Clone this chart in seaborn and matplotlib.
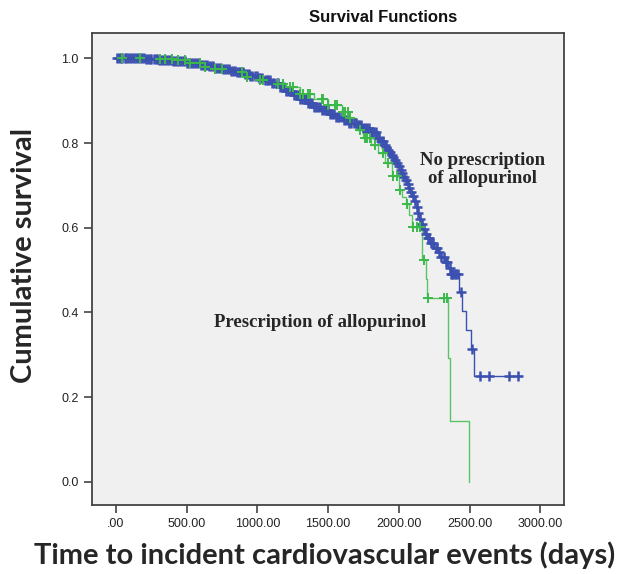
import numpy as np
import pandas as pd
import matplotlib
matplotlib.use("Agg")
import matplotlib.pyplot as plt
import seaborn as sns

# Kaplan-Meier curves (time in days, cumulative survival)
sem_t = [0, 100, 200, 300, 400, 500, 600, 650, 700, 750, 800, 850, 900, 950, 1000,
         1050, 1100, 1150, 1200, 1250, 1300, 1350, 1400, 1450, 1500, 1550, 1600,
         1650, 1700, 1750, 1800, 1850, 1875, 1900, 1912, 1925, 1938,
         1950, 1962, 1975, 1988, 2000, 2012, 2025, 2038, 2050, 2062, 2075, 2088,
         2100, 2112, 2125, 2138, 2150, 2162, 2175, 2188, 2200, 2225, 2250, 2275,
         2300, 2325, 2350, 2362, 2426, 2444, 2475, 2508, 2530, 2868]
sem_s = [1.0, 1.0, 0.998, 0.996, 0.993, 0.99, 0.984, 0.981, 0.978, 0.975, 0.971,
         0.967, 0.962, 0.958, 0.953, 0.948, 0.942, 0.932, 0.922, 0.913, 0.904,
         0.895, 0.886, 0.877, 0.868, 0.861, 0.854, 0.848, 0.843, 0.835, 0.826,
         0.812, 0.804, 0.795, 0.79, 0.784, 0.778, 0.772, 0.766, 0.759, 0.752,
         0.745, 0.737, 0.729, 0.72, 0.712, 0.703, 0.694, 0.685, 0.675, 0.662,
         0.648, 0.634, 0.62, 0.608, 0.597, 0.586, 0.576, 0.565, 0.553, 0.542,
         0.532, 0.519, 0.505, 0.49, 0.449, 0.403, 0.358, 0.313, 0.25, 0.25]
sem_cens = [8, 20, 34, 45, 60, 72, 88, 100, 115, 128, 140, 155, 170, 182, 196, 210,
            225, 238, 250, 265, 280, 292, 305, 320, 335, 348, 360, 375, 390, 402,
            418, 430, 445, 460, 472, 488, 500, 515, 530, 545, 558, 570, 585, 600,
            615, 628, 640, 655, 670, 685, 700, 712, 728, 740, 755, 770, 785, 798,
            810, 825, 840, 852, 868, 880, 895, 910, 925, 938, 950, 965, 980, 995,
            1008, 1020, 1035, 1050, 1065, 1078, 1090, 1105, 1120, 1135, 1148, 1160,
            1175, 1190, 1205, 1218, 1230, 1245, 1260, 1275, 1288, 1300, 1315, 1330,
            1345, 1358, 1370, 1385, 1400, 1415, 1428, 1440, 1455, 1470, 1485, 1498,
            1510, 1525, 1540, 1555, 1568, 1580, 1595, 1610, 1625, 1638, 1650, 1665,
            1680, 1695, 1708, 1720, 1735, 1750, 1762, 1775, 1788, 1800, 1812, 1825,
            1838, 1850, 1862, 1875, 1888, 1900, 1912, 1925, 1938, 1950, 1962, 1975,
            1988, 2000, 2012, 2025, 2038, 2050, 2062, 2075, 2088, 2100, 2112, 2125,
            2138, 2150, 2165, 2178, 2190, 2205, 2215, 2230, 2245, 2262, 2270, 2282,
            2300, 2318, 2330, 2342, 2360, 2368, 2375, 2385, 2395, 2405, 2415, 2440,
            2519, 2574, 2638, 2779, 2843]

rx_t = [0, 200, 400, 500, 600, 700, 800, 900, 1000, 1100, 1200, 1300, 1400, 1500,
        1600, 1650, 1700, 1750, 1800, 1850, 1900, 1950, 2000, 2025, 2050, 2075,
        2093, 2164, 2195, 2200, 2350, 2365, 2495]
rx_s = [1.0, 0.999, 0.996, 0.99, 0.979, 0.975, 0.967, 0.956, 0.948, 0.94, 0.932,
        0.916, 0.903, 0.89, 0.874, 0.86, 0.832, 0.813, 0.795, 0.777, 0.752, 0.722,
        0.69, 0.672, 0.655, 0.63, 0.601, 0.524, 0.48, 0.435, 0.292, 0.144, 0.0]
rx_cens = [40, 170, 311, 346, 394, 440, 488, 523, 594, 629, 700, 747, 889, 924,
           1018, 1041, 1146, 1181, 1231, 1252, 1301, 1325, 1358, 1372, 1457, 1466,
           1500, 1549, 1561, 1605, 1620, 1641, 1655, 1726, 1761, 1773, 1796, 1832,
           1888, 1924, 1959, 1987, 2008, 2058, 2100, 2129, 2150, 2178, 2206, 2320,
           2341]

BLUE = "#3c50b0"
GREEN = "#3cb84b"
GREEN_LINE = "#58c466"

sns.set_theme(style="ticks")
plt.rcParams["font.family"] = ["Liberation Sans", "DejaVu Sans"]


def censor_points(t, s, cens):
    t = np.asarray(t)
    idx = np.searchsorted(t, cens, side="right") - 1
    return pd.DataFrame({"time": cens, "surv": np.asarray(s)[idx]})


fig = plt.figure(figsize=(6.21, 5.74), dpi=100)
ax = fig.add_axes([92 / 621, 1 - 505 / 574, 472 / 621, 472 / 574])
ax.set_facecolor("#f0f0f0")

sns.lineplot(x=sem_t, y=sem_s, drawstyle="steps-post", color=BLUE, lw=1.0,
             estimator=None, sort=False, ax=ax)
sns.scatterplot(data=censor_points(sem_t, sem_s, sem_cens), x="time", y="surv",
                marker="+", s=46, color=BLUE, linewidth=1.8, ax=ax, zorder=3)

sns.lineplot(x=rx_t, y=rx_s, drawstyle="steps-post", color=GREEN_LINE, lw=1.0,
             estimator=None, sort=False, ax=ax)
sns.scatterplot(data=censor_points(rx_t, rx_s, rx_cens), x="time", y="surv",
                marker="+", s=42, color=GREEN, linewidth=1.4, ax=ax, zorder=4)

ax.set_xlim(-170, 3168)
ax.set_ylim(-0.055, 1.06)
ax.set_xticks([0, 500, 1000, 1500, 2000, 2500, 3000])
ax.set_xticklabels([".00", "500.00", "1000.00", "1500.00", "2000.00", "2500.00", "3000.00"])
ax.set_yticks([0.0, 0.2, 0.4, 0.6, 0.8, 1.0])
ax.set_yticklabels(["0.0", "0.2", "0.4", "0.6", "0.8", "1.0"])
ax.tick_params(axis="both", labelsize=9, length=6, width=1.1, color="#333333",
               labelcolor="#222222", direction="out")
for sp in ax.spines.values():
    sp.set_color("#444444")
    sp.set_linewidth(1.3)
ax.set_xlabel("")
ax.set_ylabel("")

ax.text((383 - 92) / 472, 1 + 15 / 472, "Survival Functions", transform=ax.transAxes,
        ha="center", va="center", fontsize=12, fontweight="bold", color="#111111")

ax.text(2592, 0.737, "No prescription\nof allopurinol", ha="center", va="center",
        family="Liberation Serif", fontweight="bold", fontsize=13.5, linespacing=1.1)
ax.text(1443, 0.375, "Prescription of allopurinol", ha="center", va="center",
        family="Liberation Serif", fontweight="bold", fontsize=13.5)

fig.text(0.038, 1 - 255.5 / 574, "Cumulative survival", rotation=90, ha="center",
         va="center", family="Lato", fontweight="bold", fontsize=21)
fig.text(325 / 621, 1 - 555 / 574, "Time to incident cardiovascular events (days)",
         ha="center", va="center", family="Lato", fontweight="bold", fontsize=21)

fig.savefig("out.png", dpi=100, facecolor="white")
